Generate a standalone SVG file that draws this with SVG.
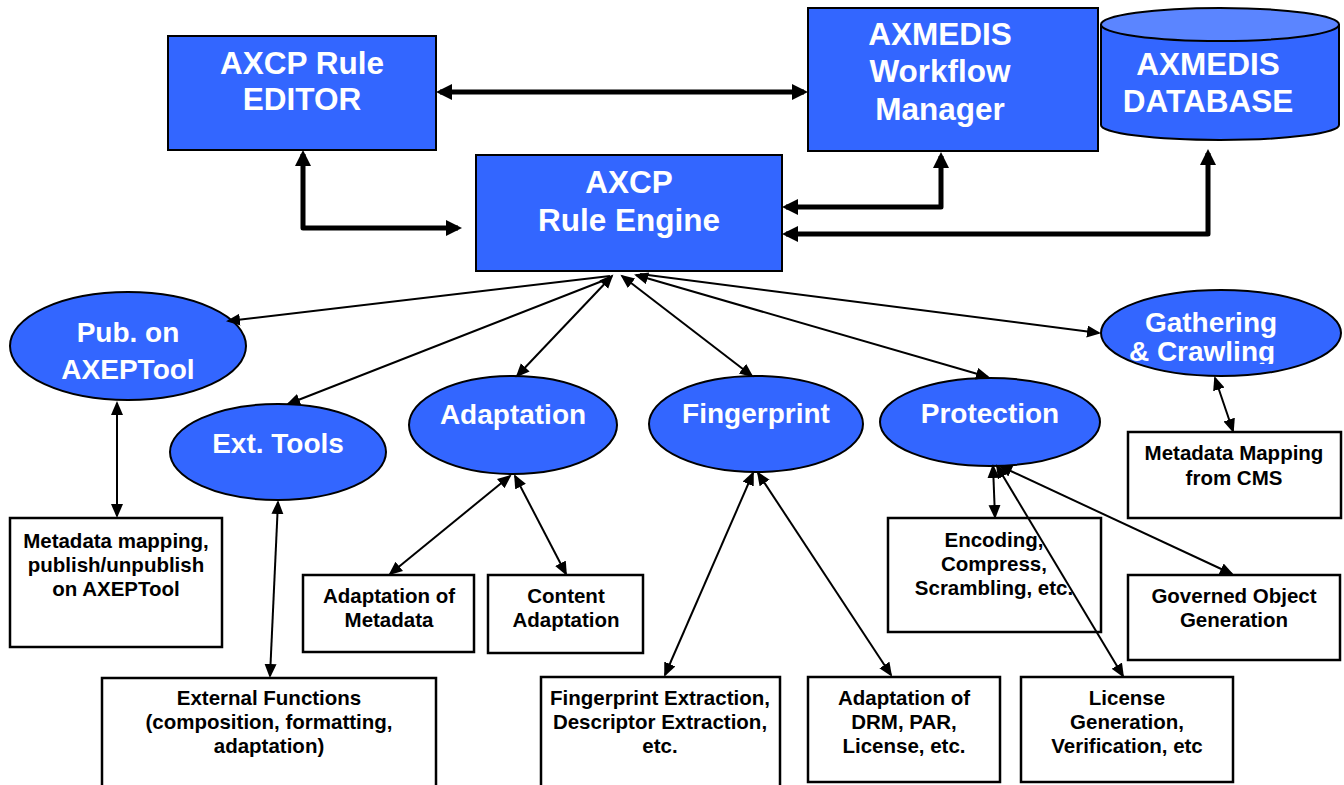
<svg xmlns="http://www.w3.org/2000/svg" width="1344" height="785" viewBox="0 0 1344 785">
<style>
.blue{fill:#3366ff;stroke:#000;stroke-width:2}
.box{fill:#fff;stroke:#000;stroke-width:2.5}
.tw{font-family:"Liberation Sans",Arial,sans-serif;font-weight:bold;fill:#fff;text-anchor:middle}
.big{font-size:31.5px}
.mid{font-size:28px}
.tb{font-family:"Liberation Sans",Arial,sans-serif;font-weight:bold;fill:#000;text-anchor:middle;font-size:20.5px}
.thick{fill:none;stroke:#000;stroke-width:5;stroke-linejoin:round}
.thin{fill:none;stroke:#000;stroke-width:2}
</style>
<defs>
<marker id="ah" markerUnits="userSpaceOnUse" markerWidth="18" markerHeight="18" refX="12" refY="8" orient="auto-start-reverse" viewBox="0 0 18 18"><path d="M0,0 L16,8 L0,16 z" fill="#000"/></marker>
<marker id="at" markerUnits="userSpaceOnUse" markerWidth="16" markerHeight="14" refX="12" refY="6" orient="auto-start-reverse" viewBox="0 0 16 14"><path d="M0,0 L14,6 L0,12 z" fill="#000"/></marker>
<clipPath id="gclip"><rect x="1100" y="280" width="244" height="84"/></clipPath>
</defs>

<g id="editor">
<rect class="blue" x="168" y="36" width="268" height="114"/>
<text class="tw big" x="302" y="74">AXCP Rule</text>
<text class="tw big" x="302" y="110">EDITOR</text>
</g>
<g id="workflow">
<rect class="blue" x="808" y="8" width="290" height="143"/>
<text class="tw big" x="940" y="45">AXMEDIS</text>
<text class="tw big" x="940" y="82">Workflow</text>
<text class="tw big" x="940" y="120">Manager</text>
</g>
<g id="database">
<path class="blue" d="M1101,24 L1101,125 A119,15 0 0 0 1339,125 L1339,24"/>
<ellipse cx="1220" cy="24.5" rx="119" ry="16.5" fill="#5b85ff" stroke="#000" stroke-width="2"/>
<text class="tw big" x="1208" y="75">AXMEDIS</text>
<text class="tw big" x="1208" y="112">DATABASE</text>
</g>
<g id="engine">
<rect class="blue" x="476" y="155" width="306" height="116"/>
<text class="tw big" x="629" y="193">AXCP</text>
<text class="tw big" x="629" y="231">Rule Engine</text>
</g>

<g id="pub">
<ellipse class="blue" cx="128" cy="346" rx="118" ry="54"/>
<text class="tw mid" x="128" y="342">Pub. on</text>
<text class="tw mid" x="128" y="379">AXEPTool</text>
</g>
<g id="ext">
<ellipse class="blue" cx="278" cy="452" rx="108" ry="48"/>
<text class="tw mid" x="278" y="453">Ext. Tools</text>
</g>
<g id="adaptation">
<ellipse class="blue" cx="513" cy="425" rx="104" ry="49"/>
<text class="tw mid" x="513" y="424">Adaptation</text>
</g>
<g id="fingerprint">
<ellipse class="blue" cx="756" cy="424" rx="107" ry="48"/>
<text class="tw mid" x="756" y="423">Fingerprint</text>
</g>
<g id="protection">
<ellipse class="blue" cx="990" cy="422" rx="110" ry="44"/>
<text class="tw mid" x="990" y="423">Protection</text>
</g>
<g id="gathering">
<ellipse class="blue" cx="1221" cy="333" rx="120" ry="43"/>
<g clip-path="url(#gclip)">
<text class="tw mid" x="1211" y="332">Gathering</text>
<text class="tw mid" x="1202" y="361">&amp; Crawling</text>
</g>
</g>

<g id="metadata-axep">
<rect class="box" x="10" y="518" width="212" height="129"/>
<text class="tb" x="116" y="548">Metadata mapping,</text>
<text class="tb" x="116" y="572">publish/unpublish</text>
<text class="tb" x="116" y="596">on AXEPTool</text>
</g>
<g id="ext-functions">
<rect class="box" x="102" y="678" width="334" height="112"/>
<text class="tb" x="269" y="705">External Functions</text>
<text class="tb" x="269" y="729">(composition, formatting,</text>
<text class="tb" x="269" y="753">adaptation)</text>
</g>
<g id="adapt-meta">
<rect class="box" x="303" y="575" width="171" height="77"/>
<text class="tb" x="389" y="603">Adaptation of</text>
<text class="tb" x="389" y="627">Metadata</text>
</g>
<g id="content-adapt">
<rect class="box" x="488" y="575" width="155" height="78"/>
<text class="tb" x="566" y="603">Content</text>
<text class="tb" x="566" y="627">Adaptation</text>
</g>
<g id="fp-extraction">
<rect class="box" x="541" y="677" width="239" height="112"/>
<text class="tb" x="660" y="705">Fingerprint Extraction,</text>
<text class="tb" x="660" y="729">Descriptor Extraction,</text>
<text class="tb" x="660" y="753">etc.</text>
</g>
<g id="adapt-drm">
<rect class="box" x="808" y="677" width="192" height="105"/>
<text class="tb" x="904" y="705">Adaptation of</text>
<text class="tb" x="904" y="729">DRM, PAR,</text>
<text class="tb" x="904" y="753">License, etc.</text>
</g>
<g id="encoding">
<rect class="box" x="888" y="518" width="213" height="114"/>
<text class="tb" x="994" y="547">Encoding,</text>
<text class="tb" x="994" y="571">Compress,</text>
<text class="tb" x="994" y="595">Scrambling, etc.</text>
</g>
<g id="governed">
<rect class="box" x="1128" y="575" width="212" height="85"/>
<text class="tb" x="1234" y="603">Governed Object</text>
<text class="tb" x="1234" y="627">Generation</text>
</g>
<g id="license">
<rect class="box" x="1021" y="677" width="212" height="105"/>
<text class="tb" x="1127" y="705">License</text>
<text class="tb" x="1127" y="729">Generation,</text>
<text class="tb" x="1127" y="753">Verification, etc</text>
</g>
<g id="cms">
<rect class="box" x="1128" y="432" width="213" height="86"/>
<text class="tb" x="1234" y="460">Metadata Mapping</text>
<text class="tb" x="1234" y="485">from CMS</text>
</g>

<g id="connectors">
<path class="thick" d="M440,92 L804,92" marker-start="url(#ah)" marker-end="url(#ah)"/>
<path class="thick" d="M303,154 L303,228 L458,228" marker-start="url(#ah)" marker-end="url(#ah)"/>
<path class="thick" d="M786,207 L941,207 L941,156" marker-start="url(#ah)" marker-end="url(#ah)"/>
<path class="thick" d="M786,234 L1208,234 L1208,153" marker-start="url(#ah)" marker-end="url(#ah)"/>

<line class="thin" x1="610" y1="276" x2="228" y2="321" marker-end="url(#at)"/>
<line class="thin" x1="610" y1="278" x2="288" y2="404" marker-end="url(#at)"/>
<line class="thin" x1="612" y1="276" x2="517" y2="376" marker-start="url(#at)" marker-end="url(#at)"/>
<line class="thin" x1="622" y1="276" x2="752" y2="376" marker-start="url(#at)" marker-end="url(#at)"/>
<line class="thin" x1="636" y1="275" x2="988" y2="377" marker-start="url(#at)" marker-end="url(#at)"/>
<line class="thin" x1="640" y1="274" x2="1099" y2="333" marker-end="url(#at)"/>

<line class="thin" x1="117" y1="403" x2="117" y2="516" marker-start="url(#at)" marker-end="url(#at)"/>
<line class="thin" x1="278" y1="502" x2="270" y2="676" marker-start="url(#at)" marker-end="url(#at)"/>
<line class="thin" x1="510" y1="476" x2="390" y2="574" marker-start="url(#at)" marker-end="url(#at)"/>
<line class="thin" x1="515" y1="476" x2="566" y2="574" marker-start="url(#at)" marker-end="url(#at)"/>
<line class="thin" x1="753" y1="473" x2="665" y2="675" marker-start="url(#at)" marker-end="url(#at)"/>
<line class="thin" x1="758" y1="473" x2="891" y2="675" marker-start="url(#at)" marker-end="url(#at)"/>
<line class="thin" x1="993" y1="466" x2="995" y2="517" marker-start="url(#at)" marker-end="url(#at)"/>
<line class="thin" x1="997" y1="466" x2="1123" y2="676" marker-start="url(#at)" marker-end="url(#at)"/>
<line class="thin" x1="1000" y1="466" x2="1232" y2="574" marker-start="url(#at)" marker-end="url(#at)"/>
<line class="thin" x1="1215" y1="378" x2="1233" y2="431" marker-start="url(#at)" marker-end="url(#at)"/>
</g>
</svg>
